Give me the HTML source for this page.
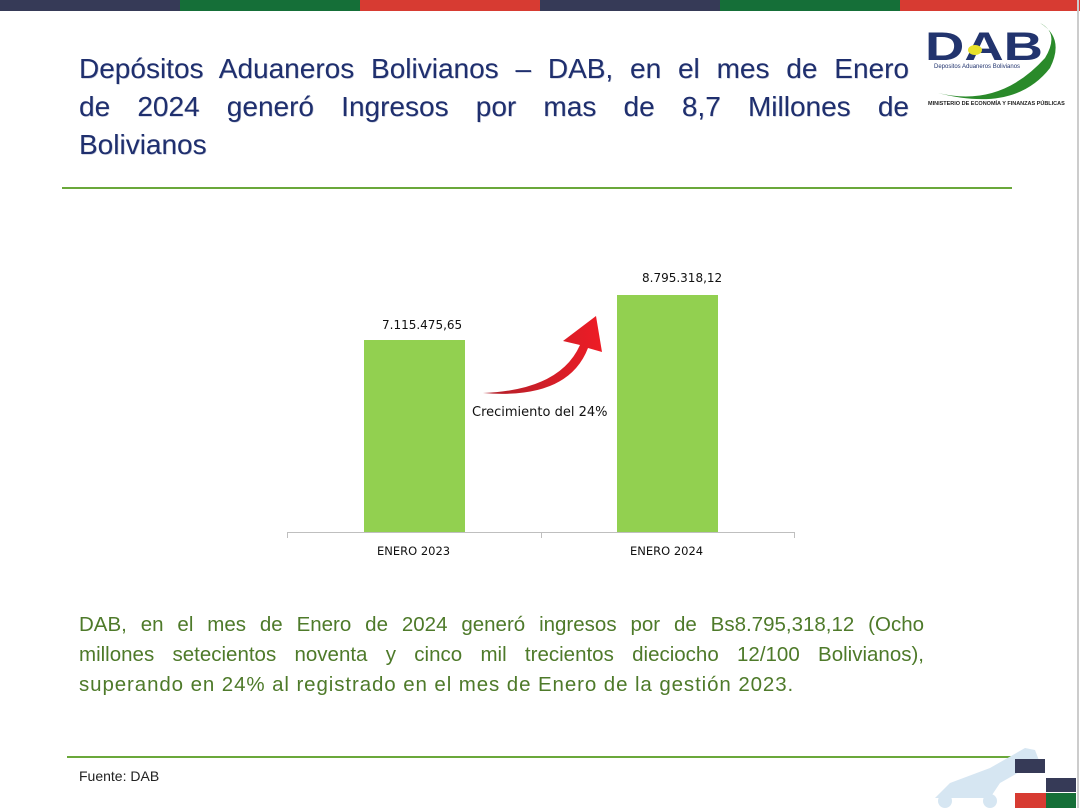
<!DOCTYPE html>
<html><head><meta charset="utf-8"><style>
body{margin:0;width:1080px;height:808px;background:#fff;position:relative;overflow:hidden;font-family:"Liberation Sans",sans-serif}
.s{position:absolute;top:0;height:11px;width:180px}
.t{position:absolute;left:79px;top:50px;width:830px;font-size:28px;line-height:38px;color:#1f2f6e;text-shadow:0.6px 0.6px 0 #1f2f6e55}
.j{text-align:justify;text-align-last:justify;white-space:nowrap}
.p{position:absolute;left:79px;top:610px;width:845px;font-size:20.5px;line-height:30px;color:#4e7a2a}
.c{position:absolute;font-family:"DejaVu Sans",sans-serif;font-size:12px;color:#111}
</style></head><body>
<div class="s" style="left:0;background:#363a57"></div>
<div class="s" style="left:180px;background:#156f38"></div>
<div class="s" style="left:360px;background:#d73b32"></div>
<div class="s" style="left:540px;background:#363a57"></div>
<div class="s" style="left:720px;background:#156f38"></div>
<div class="s" style="left:900px;background:#d73b32"></div>
<div style="position:absolute;left:1077px;top:0;width:2px;height:808px;background:#ccc"></div>
<div class="t"><div class="j">Depósitos Aduaneros Bolivianos – DAB, en el mes de Enero</div><div class="j">de 2024 generó Ingresos por mas de 8,7 Millones de</div><div>Bolivianos</div></div>
<svg style="position:absolute;left:920px;top:18px" width="160" height="95">
<path d="M18 75 Q80 90 125 40 Q140 15 120 5 Q145 20 130 50 Q95 95 18 75Z" fill="#2a8a2a"/>
<text x="5" y="42" font-family="Liberation Sans" font-weight="bold" font-size="40" fill="#22346e" textLength="118" lengthAdjust="spacingAndGlyphs">DAB</text>
<ellipse cx="55" cy="32" rx="7" ry="5" fill="#e8e22a"/>
<text x="14" y="50" font-family="Liberation Sans" font-size="6" fill="#22346e">Depositos Aduaneros Bolivianos</text>
<text x="8" y="87" font-family="Liberation Sans" font-weight="bold" font-size="5.5" fill="#222">MINISTERIO DE ECONOMÍA Y FINANZAS PÚBLICAS</text>
</svg>
<div style="position:absolute;left:62px;top:187px;width:950px;height:2px;background:#6aa83a"></div>
<svg style="position:absolute;left:0;top:0" width="1080" height="808">
<rect x="364" y="340" width="101" height="192" fill="#92d050"/>
<rect x="617" y="295" width="101" height="237" fill="#92d050"/>
<line x1="287" y1="532.5" x2="795" y2="532.5" stroke="#bfbfbf"/>
<line x1="287.5" y1="532" x2="287.5" y2="538" stroke="#bfbfbf"/>
<line x1="541.5" y1="532" x2="541.5" y2="538" stroke="#bfbfbf"/>
<line x1="794.5" y1="532" x2="794.5" y2="538" stroke="#bfbfbf"/>
<defs><linearGradient id="g" x1="0" x2="1"><stop offset="0" stop-color="#b0202a"/><stop offset="1" stop-color="#ee1c25"/></linearGradient></defs>
<path d="M483 393 Q560 390 580 345 L563 341 L596 316 L602 352 L588 348 Q568 400 483 393Z" fill="url(#g)"/>
</svg>
<div class="c" style="left:382px;top:318px">7.115.475,65</div>
<div class="c" style="left:642px;top:271px">8.795.318,12</div>
<div class="c" style="left:472px;top:405px;font-size:13px">Crecimiento del 24%</div>
<div class="c" style="left:377px;top:544px;font-size:11.5px">ENERO 2023</div>
<div class="c" style="left:630px;top:544px;font-size:11.5px">ENERO 2024</div>
<div class="p"><div class="j">DAB, en el mes de Enero de 2024 generó ingresos por de Bs8.795,318,12 (Ocho</div><div class="j">millones setecientos noventa y cinco mil trecientos dieciocho 12/100 Bolivianos),</div><div style="letter-spacing:0.9px">superando en 24% al registrado en el mes de Enero de la gestión 2023.</div></div>
<div style="position:absolute;left:67px;top:756px;width:952px;height:2px;background:#6aa83a"></div>
<div style="position:absolute;left:79px;top:768px;font-size:14px;color:#222">Fuente: DAB</div>
<svg style="position:absolute;left:930px;top:738px" width="150" height="70">
<path d="M5 60 L20 45 L60 30 L95 10 L105 12 L110 25 L100 28 L70 45 L60 60Z" fill="#d6e6f2"/>
<circle cx="15" cy="63" r="7" fill="#d6e6f2"/><circle cx="60" cy="63" r="7" fill="#d6e6f2"/>
<rect x="85" y="21" width="30" height="14" fill="#363a57"/>
<rect x="116" y="40" width="30" height="14" fill="#363a57"/>
<rect x="85" y="55" width="31" height="15" fill="#d73b32"/>
<rect x="116" y="55" width="30" height="15" fill="#156f38"/>
</svg>
</body></html>
